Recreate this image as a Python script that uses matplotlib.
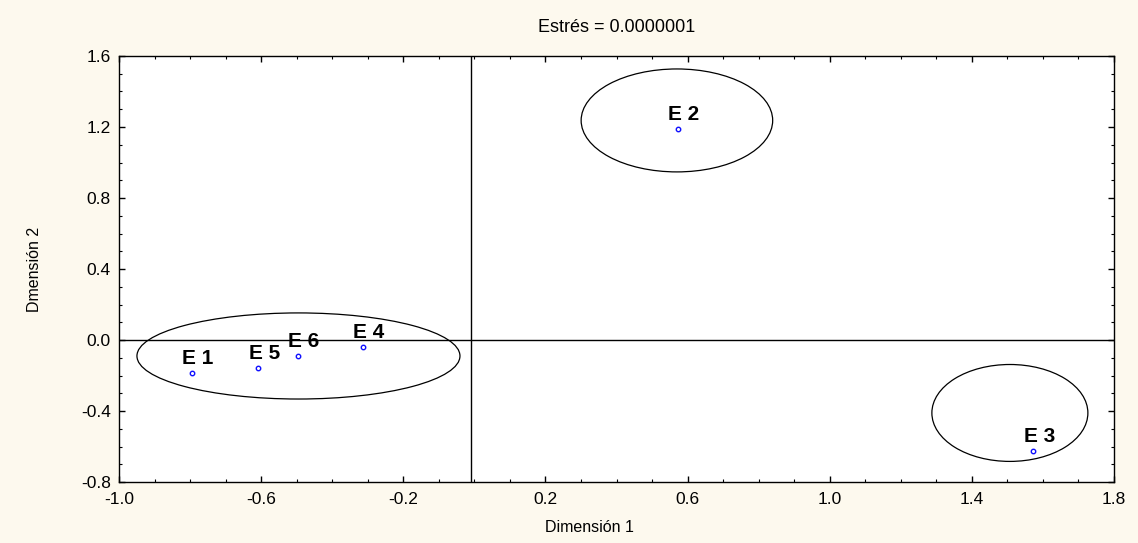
import matplotlib
matplotlib.use("Agg")
import matplotlib.pyplot as plt
import numpy as np
from matplotlib.patches import Ellipse
from matplotlib.ticker import MultipleLocator, FormatStrFormatter

plt.rcParams['font.family'] = ['Liberation Sans', 'DejaVu Sans']

labels = ["E 1", "E 2", "E 3", "E 4", "E 5", "E 6"]
dim1 = [-0.794, 0.573, 1.573, -0.313, -0.608, -0.497]
dim2 = [-0.184, 1.189, -0.624, -0.039, -0.156, -0.090]

# Group ellipses: centre x, centre y, width, height
ell_cx = [-0.495, 0.570, 1.507]
ell_cy = [-0.090, 1.237, -0.411]
ell_w = [0.909, 0.539, 0.439]
ell_h = [0.485, 0.580, 0.546]

xticks = [-1.0, -0.6, -0.2, 0.2, 0.6, 1.0, 1.4, 1.8]
yticks = [-0.8, -0.4, 0.0, 0.4, 0.8, 1.2, 1.6]

title = "Estrés = 0.0000001"
xlabel = "Dimensión 1"
ylabel = "Dmensión 2"

fig = plt.figure(figsize=(11.38, 5.43), dpi=100, facecolor='#fdf9ee')
ax = fig.add_axes([119/1138, 1-482/543, (1114-119)/1138, (482-56)/543])
ax.set_facecolor('white')

ax.set_xlim(-1.0, 1.8)
ax.set_ylim(-0.8, 1.6)

ax.axvline(-0.01, color='black', lw=1)
ax.axhline(0, color='black', lw=1)

for cx, cy, w, h in zip(ell_cx, ell_cy, ell_w, ell_h):
    ax.add_patch(Ellipse((cx, cy), w, h, fill=False, edgecolor='black', lw=0.9))

ax.plot(dim1, dim2, linestyle='none', marker='o', markersize=3.2,
        markerfacecolor='none', markeredgecolor='#1010ff', markeredgewidth=1.0)

for x, y, lab in zip(dim1, dim2, labels):
    ax.annotate(lab, (x, y), xytext=(4.3, 6.2), textcoords='offset points',
                ha='center', va='baseline', fontsize=15, fontweight='bold',
                color='black')

ax.set_xticks(xticks)
ax.set_yticks(yticks)
ax.xaxis.set_minor_locator(MultipleLocator(0.1))
ax.yaxis.set_minor_locator(MultipleLocator(0.1))
ax.xaxis.set_major_formatter(FormatStrFormatter('%.1f'))
ax.yaxis.set_major_formatter(FormatStrFormatter('%.1f'))

ax.tick_params(which='both', direction='in', top=True, right=True,
               labelsize=12.5, colors='black')
ax.tick_params(which='major', length=4, width=1)
ax.tick_params(which='minor', length=2.5, width=0.8)
ax.tick_params(axis='x', pad=7)
ax.tick_params(axis='y', pad=6)

for sp in ax.spines.values():
    sp.set_color('black')
    sp.set_linewidth(1)

ax.set_title(title, fontsize=13, pad=17)
ax.set_xlabel(xlabel, fontsize=11.5)
ax.set_ylabel(ylabel, fontsize=11.5)
ax.xaxis.set_label_coords(0.473, -0.09)
ax.yaxis.set_label_coords(-0.077, 0.5)

fig.savefig('out.png', dpi=100, facecolor=fig.get_facecolor())
